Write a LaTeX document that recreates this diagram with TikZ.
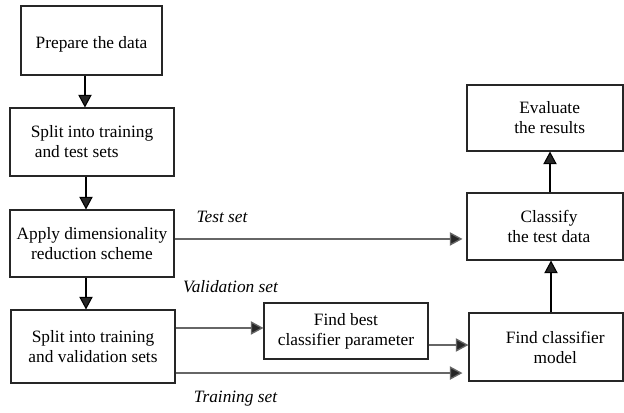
\documentclass[tikz,border=0pt]{standalone}
\usepackage{fontspec}
\setmainfont{Liberation Serif}
\usetikzlibrary{arrows.meta,calc}
\begin{document}
\begin{tikzpicture}[x=0.75pt,y=-0.75pt,
  box/.style={draw=black!85,line width=0.8pt,align=center,inner sep=0pt,
    font=\fontsize{13}{15}\selectfont},
  tip/.style={-{Triangle[length=9.5pt,width=10pt,fill=black!85]}},
  varrow/.style={line width=0.8pt,draw=black,tip},
  harrow/.style={line width=1pt,draw=black!60,tip},
  lab/.style={font=\fontsize{13}{15}\selectfont\itshape,inner sep=0pt}]
\useasboundingbox (0,0) rectangle (624,412);
\node[box,minimum width=105.75pt,minimum height=51.75pt] (b1) at (91.5,40.5) {\raisebox{-2.5pt}[\height][\depth]{Prepare the data}};
\node[box,align=left,minimum width=123pt,minimum height=51pt] (b2) at (92,142) {Split into training\\\hspace{3pt}and test sets};
\node[box,minimum width=123pt,minimum height=50.25pt] (b3) at (92,243.5) {Apply dimensionality\\reduction scheme};
\node[box,minimum width=123pt,minimum height=54.75pt] (b4) at (93,346.5) {Split into training\\and validation sets};
\node[box,minimum width=117pt,minimum height=49.5pt] (ev) at (545,118) {\hspace{7pt}Evaluate\\\hspace{7pt}the results};
\node[box,minimum width=117pt,minimum height=50.25pt] (cl) at (545,226.5) {\hspace{6pt}Classify\\\hspace{6pt}the test data};
\node[box,minimum width=123pt,minimum height=42pt] (fb) at (346,331) {Find best\\classifier parameter};
\node[box,minimum width=115.5pt,minimum height=51pt] (fc) at (546,347) {\hspace{14pt}Find classifier\\\hspace{14pt}model};
% vertical arrows
\draw[varrow] ([xshift=-4.9pt]b1.south) -- ([xshift=-4.9pt]b1.south |- b2.north);
\draw[varrow] ([xshift=-4.5pt]b2.south) -- ([xshift=-4.5pt]b2.south |- b3.north);
\draw[varrow] ([xshift=-4.5pt]b3.south) -- ([xshift=-4.5pt]b3.south |- b4.north);
\draw[varrow] ([xshift=3.75pt]cl.north) -- ([xshift=3.75pt]cl.north |- ev.south);
\draw[varrow] ([xshift=3.75pt]fc.north) -- ([xshift=3.75pt]fc.north |- cl.south);
% horizontal arrows
\coordinate (ts) at ([yshift=3.4pt]b3.east);
\draw[harrow,shorten >=3pt] (ts) -- (ts -| cl.west);
\coordinate (vs) at ([yshift=13.9pt]b4.east);
\draw[harrow] (vs) -- (vs -| fb.west);
\coordinate (fs) at ([yshift=-10.5pt]fb.east);
\draw[harrow] (fs) -- (fs -| fc.west);
\coordinate (trs) at ([yshift=-19.9pt]b4.east);
\draw[harrow,shorten >=4.5pt] (trs) -- (trs -| fc.west);
% labels
\node[lab] (lt) at (222,217) {Test set};
\node[lab] (lv) at (230.5,287) {Validation set};
\node[lab] (lr) at (235.5,399) {Training set};
\end{tikzpicture}
\end{document}
